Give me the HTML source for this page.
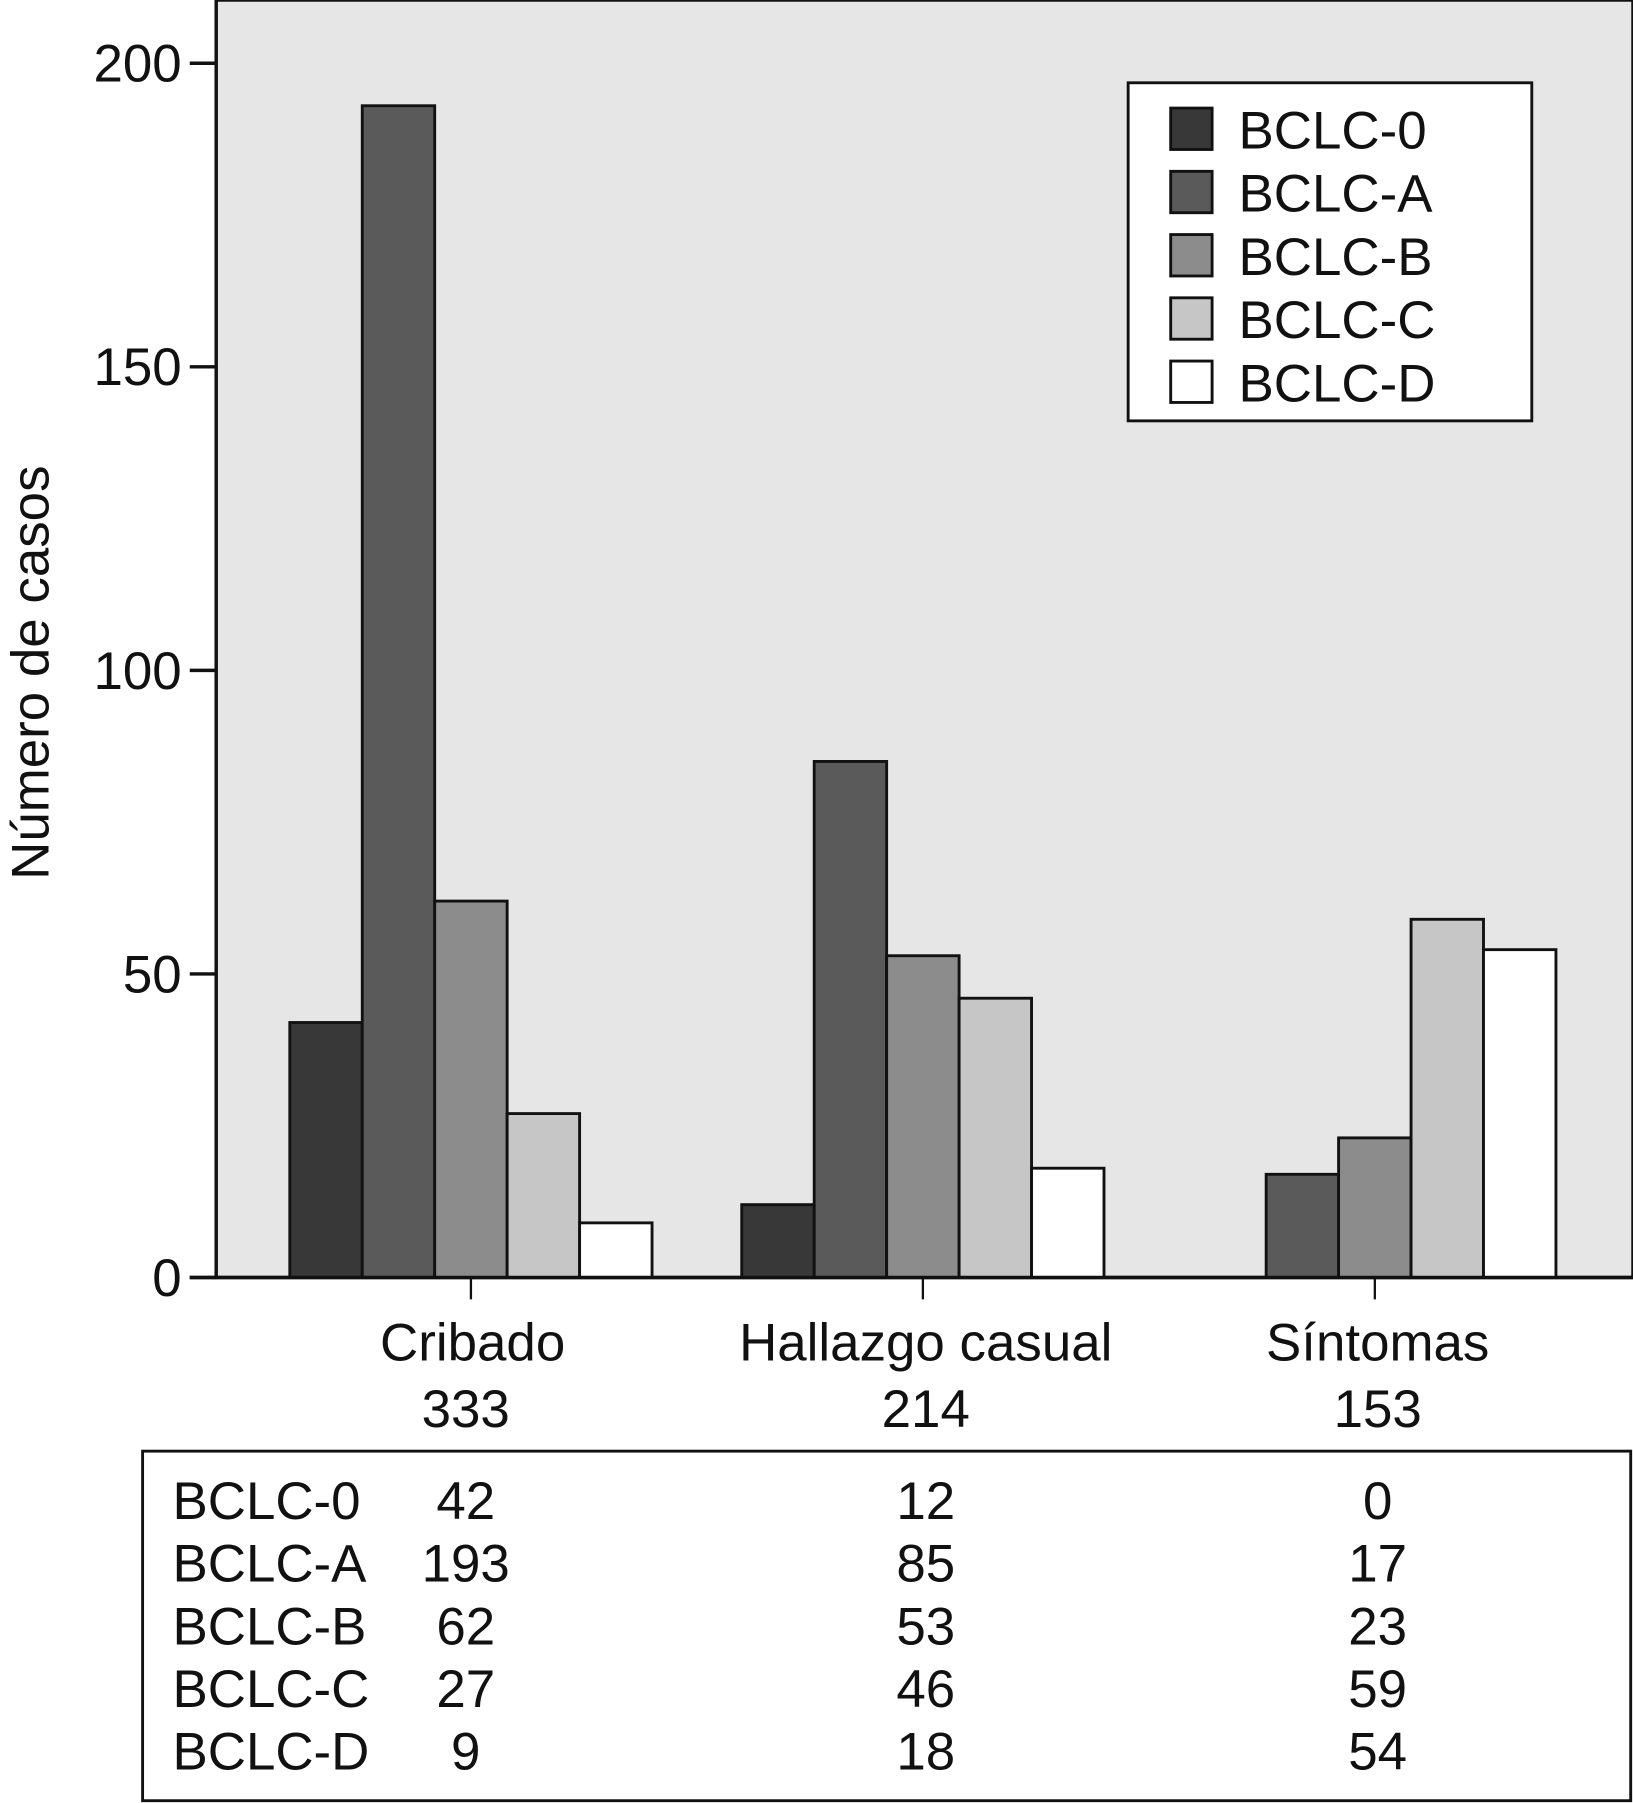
<!DOCTYPE html>
<html><head><meta charset="utf-8"><style>
html,body{margin:0;padding:0;background:#fff}
svg{display:block}
text{font-family:"Liberation Sans",Arial,sans-serif;fill:#111}
</style></head><body>
<svg id="chart" width="1633" height="1803" viewBox="0 0 1420 1568" preserveAspectRatio="none" xmlns="http://www.w3.org/2000/svg">
<rect x="188" y="0" width="1232" height="1111" fill="#e6e6e6" stroke="#111" stroke-width="3"/>
<g id="bars"></g>
<g id="axis"></g>
<text transform="translate(42,585) rotate(-90)" text-anchor="middle" font-size="46">Número de casos</text>
<g>
<rect x="981" y="72" width="351" height="294" fill="#fff" stroke="#111" stroke-width="2.5"/>
<g id="legend"></g>
</g>
<rect x="124" y="1262" width="1294" height="304" fill="#fff" stroke="#111" stroke-width="2.5"/>
<g id="table"></g>
</svg>
<script>
const categories=["Cribado","Hallazgo casual","Síntomas"];
const totals=["333","214","153"];
const seriesNames=["BCLC-0","BCLC-A","BCLC-B","BCLC-C","BCLC-D"];
const bclc0=[42,12,0];
const bclcA=[193,85,17];
const bclcB=[62,53,23];
const bclcC=[27,46,59];
const bclcD=[9,18,54];
const yTicks=[0,50,100,150,200];
const series=[bclc0,bclcA,bclcB,bclcC,bclcD];
const colors=["#383838","#5a5a5a","#8c8c8c","#c6c6c6","#ffffff"];
const NS="http://www.w3.org/2000/svg";
function y(v){return 1111-v*(1111-55)/200;}
const groupStart=[252,643,1038], barW=63;
function gx(i){return groupStart[0]+i*((groupStart[2]-groupStart[0])/2);}
function el(t,a,p){const e=document.createElementNS(NS,t);for(const k in a)e.setAttribute(k,a[k]);p.appendChild(e);return e;}
const FS=46;
const bars=document.getElementById('bars');
categories.forEach((c,i)=>{series.forEach((s,j)=>{
 const v=s[i];if(v<=0)return;
 const r=el('rect',{x:gx(i)+j*barW,y:y(v),width:barW,height:1111-y(v),fill:colors[j],stroke:'#111','stroke-width':2.5},bars);
 
 
});});
const ax=document.getElementById('axis');
el('line',{x1:165,y1:1111,x2:1420,y2:1111,stroke:'#111','stroke-width':3},ax);
yTicks.forEach(t=>{
 el('line',{x1:165,y1:y(t),x2:188,y2:y(t),stroke:'#111','stroke-width':3},ax);
 const tx=el('text',{x:158,y:y(t)+16,'text-anchor':'end','font-size':FS},ax);tx.textContent=t;
 
 
});
const colX=[405,805,1198];
const labX=[411,805,1198];
categories.forEach((c,i)=>{
 const cx=gx(i)+2.5*barW;
 el('line',{x1:cx,y1:1111,x2:cx,y2:1130,stroke:'#111','stroke-width':2},ax);
 const t=el('text',{x:labX[i],y:1183,'text-anchor':'middle','font-size':FS},ax);t.textContent=c;
 
 
 const n=el('text',{x:colX[i],y:1241,'text-anchor':'middle','font-size':FS},ax);n.textContent=totals[i];
 
 
});
const lg=document.getElementById('legend');
seriesNames.forEach((s,j)=>{
 const r=el('rect',{x:1018,y:94+j*55,width:36,height:36,fill:colors[j],stroke:'#111','stroke-width':2.5},lg);
 
 
 const t=el('text',{x:1077,y:129+j*55,'font-size':FS},lg);t.textContent=s;
 
 
});
const tb=document.getElementById('table');
seriesNames.forEach((s,j)=>{
 const yy=1321+j*54.5;
 const l=el('text',{x:150,y:yy,'font-size':FS},tb);l.textContent=s;
 
 
 series[j].forEach((v,i)=>{
  const t=el('text',{x:colX[i],y:yy,'text-anchor':'middle','font-size':FS},tb);t.textContent=v;
  
  
 });
});
</script>
</body></html>
